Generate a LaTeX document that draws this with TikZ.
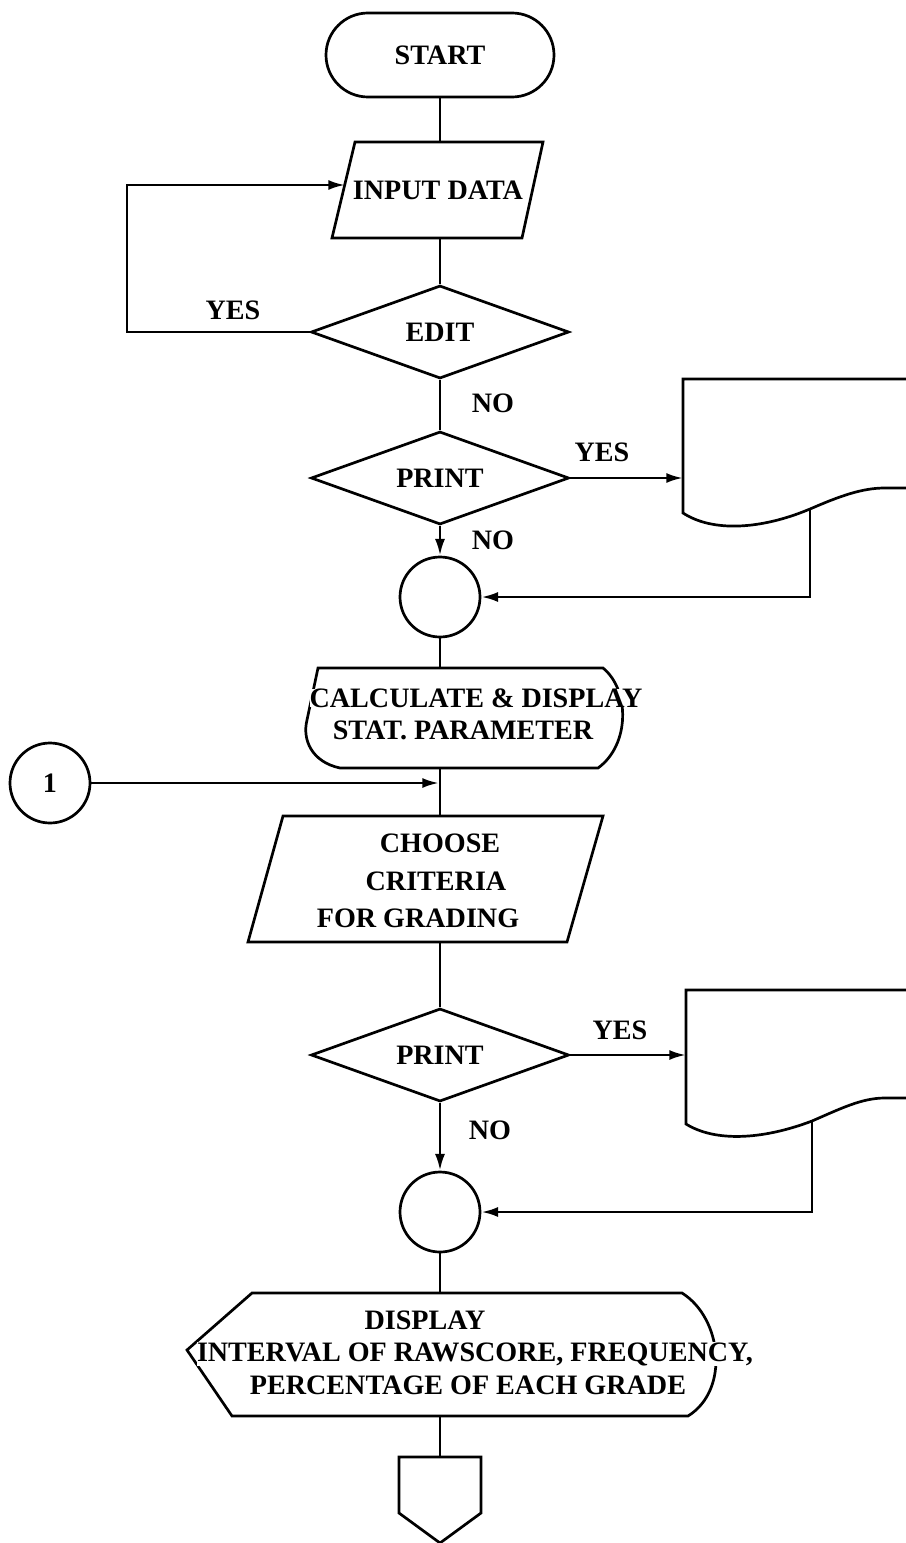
\documentclass[tikz,border=0pt]{standalone}
\usepackage{fontspec}
\setmainfont{Liberation Serif}
\usetikzlibrary{shapes.geometric,arrows.meta}
\newcommand\flowfont{\fontsize{24}{28}\selectfont\bfseries}
\tikzset{
  term/.style={draw,rectangle,rounded corners=1.26cm,minimum width=6.84cm,minimum height=2.52cm},
  decide/.style={draw,diamond,aspect=2.8,inner sep=0pt,minimum width=7.74cm,minimum height=2.79cm},
  joint/.style={draw,circle,inner sep=0pt,minimum size=2.4cm},
  txt/.style={align=center,inner sep=0pt},
  mask/.style={txt,fill=white},
  arr/.style={-{Latex[length=0.5cm,width=0.3cm]}}
}
\begin{document}
\begin{tikzpicture}[x=0.03cm,y=-0.03cm,line width=2.3pt,font=\flowfont]
\useasboundingbox (0,0) rectangle (906,1543);
% start and input
\node[term] (start) at (440,55) {START};
\draw (355,142) -- (543,142) -- (522,238) -- (332,238) -- cycle;
\node[mask] (input) at (438,190) {INPUT DATA};
\coordinate (input-t) at (440,142);
\coordinate (input-b) at (440,238);
\coordinate (input-l) at (345,185);
\draw (start) -- (input-t);
% edit loop
\node[decide] (edit) at (440,332) {EDIT};
\draw (input-b) -- (edit.north);
\coordinate (loop) at (127,185);
\draw[arr] (edit.west) -| (loop) -- (input-l);
\node (yes1) at (233,310) {YES};
\node (no1) at (493,403) {NO};
% first print
\node[decide] (print1) at (440,478) {PRINT};
\draw (edit.south) -- (print1.north);
\draw (906,379) -- (683,379) -- (683,513) .. controls (712,532) and (760,530) .. (810,509)
  .. controls (840,496) and (862,488) .. (885,488) -- (906,488);
\coordinate (doc1-in) at (683,478);
\coordinate (doc1-out) at (810,509);
\draw[arr] (print1.east) -- (doc1-in);
\node (yes2) at (602,452) {YES};
\node[joint] (join1) at (440,597) {};
\draw[arr] (print1.south) -- (join1.north);
\node (no2) at (493,540) {NO};
\draw[arr] (doc1-out) |- (join1.east);
% statistics
\draw (318,668) -- (603,668) .. controls (630,690) and (630,745) .. (598,768) -- (340,768)
  .. controls (312,762) and (302,740) .. (307,720) -- cycle;
\node[mask] (calc1) at (476,698) {CALCULATE \& DISPLAY};
\node[mask] (calc2) at (463,730) {STAT. PARAMETER};
\coordinate (calc-t) at (440,668);
\coordinate (calc-b) at (440,768);
\draw (join1.south) -- (calc-t);
% criteria
\node[joint] (page1) at (50,783) {1};
\coordinate (hit) at (439,783);
\draw[arr] (page1.east) -- (hit);
\draw (283,816) -- (603,816) -- (567,942) -- (248,942) -- cycle;
\node[txt] (choose1) at (440,843) {CHOOSE};
\node[txt] (choose2) at (436,881) {CRITERIA};
\node[txt] (choose3) at (418,918) {FOR GRADING};
\coordinate (choose-t) at (440,816);
\coordinate (choose-b) at (440,942);
\draw (calc-b) -- (choose-t);
% second print
\node[decide] (print2) at (440,1055) {PRINT};
\draw (choose-b) -- (print2.north);
\draw (906,990) -- (686,990) -- (686,1124) .. controls (715,1142) and (762,1140) .. (812,1121)
  .. controls (842,1108) and (862,1098) .. (885,1098) -- (906,1098);
\coordinate (doc2-in) at (686,1055);
\coordinate (doc2-out) at (812,1121);
\draw[arr] (print2.east) -- (doc2-in);
\node (yes3) at (620,1030) {YES};
\node[joint] (join2) at (440,1212) {};
\draw[arr] (print2.south) -- (join2.north);
\node (no3) at (490,1130) {NO};
\draw[arr] (doc2-out) |- (join2.east);
% grade table
\draw (252,1293) -- (682,1293) .. controls (722,1318) and (730,1390) .. (688,1416) -- (232,1416)
  -- (187,1350) -- cycle;
\node[mask] (show1) at (425,1320) {DISPLAY};
\node[mask] (show2) at (475,1354) {INTERVAL OF RAWSCORE, FREQUENCY,};
\node[mask] (show3) at (468,1385) {PERCENTAGE OF EACH GRADE};
\coordinate (show-t) at (440,1293);
\coordinate (show-b) at (440,1416);
\draw (join2.south) -- (show-t);
% off page
\draw (399,1457) -- (481,1457) -- (481,1513) -- (440,1543) -- (399,1513) -- cycle;
\coordinate (off-t) at (440,1457);
\draw (show-b) -- (off-t);
\end{tikzpicture}
\end{document}
